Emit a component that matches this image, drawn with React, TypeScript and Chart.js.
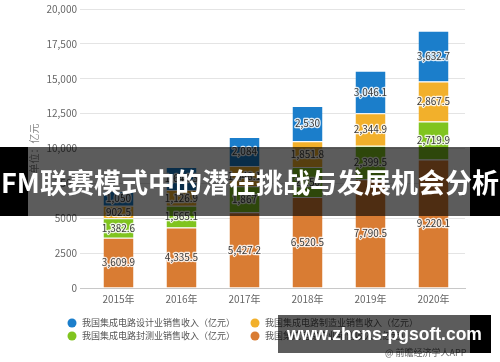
import React, { useEffect, useRef } from "react";
import { Chart, registerables } from "chart.js";

Chart.register(...registerables);

// ---- data ----
const categories = ["2015年", "2016年", "2017年", "2018年", "2019年", "2020年"];
const industryRevenue = [3609.9, 4335.5, 5427.2, 6520.5, 7790.5, 9220.1];
const packagingRevenue = [1382.6, 1565.1, 1867, 2150, 2399.5, 2719.9];
const manufacturingRevenue = [902.5, 1126.9, 1448.1, 1851.8, 2344.9, 2867.5];
const designRevenue = [1050, 1644.3, 2084, 2530, 3046.1, 3632.7];

const seriesNames = [
  "我国集成电路产业销售收入（亿元）",
  "我国集成电路封测业销售收入（亿元）",
  "我国集成电路制造业销售收入（亿元）",
  "我国集成电路设计业销售收入（亿元）",
];
const seriesColors = ["#d97c33", "#80c41f", "#f2b02b", "#1b7ecb"];
const legendOrder = [3, 2, 1, 0];

const yTickValues = [0, 2500, 5000, 7500, 10000, 12500, 15000, 17500, 20000];
const yTickLabels = ["0", "2500", "5000", "7500", "10,000", "12,500", "15,000", "17,500", "20,000"];
const yTitle = "单位：亿元";

const bannerText = "FM联赛模式中的潜在挑战与发展机会分析";
const watermarkText = "www.zhcns-pgsoft.com";
const creditText = "@ 前瞻经济学人APP";

const FONT = '"Noto Sans CJK SC", "Noto Sans", sans-serif';
const fmt = new Intl.NumberFormat("en-US", { maximumFractionDigits: 1 });

const segmentLabels = {
  id: "segmentLabels",
  afterDatasetsDraw(chart: any) {
    const ctx = chart.ctx;
    ctx.save();
    ctx.font = `10px ${FONT}`;
    ctx.textAlign = "center";
    ctx.textBaseline = "middle";
    ctx.lineJoin = "round";
    chart.data.datasets.forEach((ds: any, i: number) => {
      const meta = chart.getDatasetMeta(i);
      meta.data.forEach((bar: any, j: number) => {
        const p = bar.getProps(["x", "y", "base"], true);
        const cy = (p.y + p.base) / 2;
        const t = fmt.format(ds.data[j]);
        ctx.lineWidth = 2.5;
        ctx.strokeStyle = "rgba(255,255,255,0.85)";
        ctx.strokeText(t, p.x, cy);
        ctx.fillStyle = "#3a3a3a";
        ctx.fillText(t, p.x, cy);
      });
    });
    ctx.restore();
  },
};

const customLegend = {
  id: "customLegend",
  afterDraw(chart: any) {
    const ctx = chart.ctx;
    ctx.save();
    ctx.font = `9px ${FONT}`;
    ctx.textBaseline = "middle";
    ctx.textAlign = "left";
    const colX = [72, 255];
    const rowY = [323, 336];
    legendOrder.forEach((di, k) => {
      const ds = chart.data.datasets[di];
      const cx = colX[k % 2];
      const cy = rowY[Math.floor(k / 2)];
      ctx.beginPath();
      ctx.arc(cx, cy, 4.5, 0, Math.PI * 2);
      ctx.fillStyle = ds.backgroundColor;
      ctx.fill();
      ctx.fillStyle = "#555";
      ctx.fillText(ds.label, cx + 10, cy);
    });
    ctx.restore();
  },
};

export default function App() {
  const ref = useRef<HTMLCanvasElement | null>(null);

  useEffect(() => {
    if (!ref.current) return;
    const dataSets = [industryRevenue, packagingRevenue, manufacturingRevenue, designRevenue];
    const chart = new Chart(ref.current, {
      type: "bar",
      data: {
        labels: categories,
        datasets: dataSets.map((d, i) => ({
          label: seriesNames[i],
          data: d,
          backgroundColor: seriesColors[i],
          borderColor: "#ffffff",
          borderWidth: { top: 1, left: 0, right: 0, bottom: 0 },
          borderSkipped: false,
          categoryPercentage: 1,
          barPercentage: 0.476,
        })),
      },
      options: {
        responsive: false,
        animation: false,
        layout: { padding: { top: 3, right: 35, bottom: 52, left: 0 } },
        plugins: {
          legend: { display: false },
          tooltip: { enabled: false },
          title: { display: false },
        },
        scales: {
          x: {
            stacked: true,
            grid: { display: false, drawTicks: false, tickLength: 0 },
            border: { display: true, color: "#c8c8c8", width: 1 },
            ticks: { color: "#666", font: { size: 10, family: FONT }, padding: 5 },
          },
          y: {
            stacked: true,
            min: 0,
            max: 20000,
            afterFit: (s: any) => {
              s.width = 87;
            },
            afterBuildTicks: (s: any) => {
              s.ticks = yTickValues.map((v) => ({ value: v }));
            },
            grid: {
              color: (c: any) => (c.tick && c.tick.value === 0 ? "#c8c8c8" : "#e4e4e4"),
              drawTicks: true,
              tickLength: 7,
            },
            border: { display: false },
            ticks: {
              color: "#666",
              font: { size: 10, family: FONT },
              padding: 3,
              callback: (v: any) => {
                const i = yTickValues.indexOf(Number(v));
                return i >= 0 ? yTickLabels[i] : "";
              },
            },
            title: {
              display: true,
              text: yTitle,
              color: "#888",
              font: { size: 10, family: FONT },
              padding: { top: 28, bottom: 0 },
            },
          },
        },
      },
      plugins: [segmentLabels, customLegend],
    });
    return () => chart.destroy();
  }, []);

  return (
    <div style={{ position: "fixed", left: 0, top: 0, width: 500, height: 362, background: "#fff", overflow: "hidden" }}>
      <canvas ref={ref} width={500} height={362} style={{ width: 500, height: 362, display: "block" }} />
      {/* top banner overlay */}
      <div style={{ position: "absolute", left: 0, top: 147, width: 28, height: 69, background: "#000" }} />
      <div style={{ position: "absolute", left: 28, top: 147, width: 442, height: 69, background: "rgba(0,0,0,0.64)" }} />
      <div style={{ position: "absolute", left: 470, top: 147, width: 30, height: 69, background: "#000" }} />
      <div
        style={{
          position: "absolute",
          left: 0,
          top: 147,
          width: 500,
          height: 69,
          lineHeight: "69px",
          textAlign: "center",
          color: "#fff",
          fontFamily: FONT,
          fontWeight: 700,
          fontSize: 27,
          whiteSpace: "nowrap",
          letterSpacing: 0,
        }}
      >
        {bannerText}
      </div>
      {/* credit */}
      <div
        style={{
          position: "absolute",
          left: 385,
          top: 347,
          fontFamily: FONT,
          fontSize: 9,
          color: "#666",
          whiteSpace: "nowrap",
          lineHeight: "12px",
        }}
      >
        {creditText}
      </div>
      {/* bottom watermark */}
      <div style={{ position: "absolute", left: 278, top: 315, width: 192, height: 38, background: "rgba(0,0,0,0.64)" }} />
      <div style={{ position: "absolute", left: 470, top: 315, width: 21, height: 38, background: "#000" }} />
      <div
        style={{
          position: "absolute",
          left: 278,
          top: 315,
          width: 213,
          height: 38,
          lineHeight: "38px",
          textAlign: "center",
          color: "#fff",
          fontFamily: '"Liberation Sans", Arial, sans-serif',
          fontWeight: 700,
          fontSize: 17.5,
          whiteSpace: "nowrap",
        }}
      >
        {watermarkText}
      </div>
    </div>
  );
}
